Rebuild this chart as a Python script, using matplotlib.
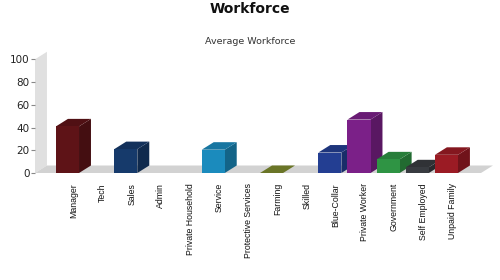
import numpy as np
import matplotlib.pyplot as plt
from matplotlib.patches import Polygon
from matplotlib.colors import to_rgb
import matplotlib.transforms as mtransforms

categories = ['Manager', 'Tech', 'Sales', 'Admin', 'Private Household', 'Service',
              'Protective Services', 'Farming', 'Skilled', 'Blue-Collar',
              'Private Worker', 'Government', 'Self Employed', 'Unpaid Family']
values = [41, np.nan, 21, np.nan, np.nan, 20.5, np.nan, 0, np.nan, 18, 47, 12, 5, 16]
colors = ['#5e1317', '#888888', '#163a6b', '#888888', '#888888', '#1b8bbd', '#888888',
          '#7d8a2e', '#888888', '#233e92', '#7b2088', '#2f9444', '#383b40', '#9b1b24']
yticks = [0, 20, 40, 60, 80, 100]


def shade(c, f):
    r, g, b = to_rgb(c)
    return (r * f, g * f, b * f)


fig = plt.figure(figsize=(5, 2.8), dpi=100)
ax = fig.add_axes([35 / 500, 107 / 280, 446 / 500, 113.7 / 280])
ax.set_xlim(-1.115, 14.185)
ax.set_ylim(0, 100)
for s in ax.spines.values():
    s.set_visible(False)

# depth of the 3d look, in data units
ddx = 0.41
ddy = 6.6
w = 0.79
x = np.arange(len(categories))
x0, x1 = ax.get_xlim()

# back wall and floor
wall = Polygon([(x0, 0), (x0, 100), (x0 + ddx, 100 + ddy), (x0 + ddx, ddy)],
               closed=True, facecolor='#e0e0e0', edgecolor='none', clip_on=False, zorder=1)
ax.add_patch(wall)
floor = Polygon([(x0, 0), (x1, 0), (x1 + ddx, ddy), (x0 + ddx, ddy)],
                closed=True, facecolor='#d2d2d2', edgecolor='none', clip_on=False, zorder=1)
ax.add_patch(floor)

vals = np.array(values, dtype=float)
for i in range(len(categories)):
    v = vals[i]
    if np.isnan(v):
        continue
    c = colors[i]
    z = 3 + i
    left = x[i] - w / 2
    right = x[i] + w / 2
    if v > 0:
        ax.bar(x[i], v, width=w, color=c, zorder=z + 0.2, clip_on=False)
        side = Polygon([(right, 0), (right + ddx, ddy), (right + ddx, v + ddy), (right, v)],
                       closed=True, facecolor=shade(c, 0.72), edgecolor='none',
                       clip_on=False, zorder=z)
        ax.add_patch(side)
    top = Polygon([(left, v), (right, v), (right + ddx, v + ddy), (left + ddx, v + ddy)],
                  closed=True, facecolor=shade(c, 0.85), edgecolor='none',
                  clip_on=False, zorder=z + 0.1)
    ax.add_patch(top)

ax.set_xticks([])
ax.set_yticks(yticks)
ax.set_yticklabels([str(t) for t in yticks], fontsize=7.5, color='#222222')
ax.tick_params(axis='y', length=3, color='#888888', pad=1)

trans = mtransforms.blended_transform_factory(ax.transData, fig.transFigure)
for i, name in enumerate(categories):
    ax.text(x[i] + ddx / 2, 1 - 183 / 280, name, transform=trans, rotation=90,
            ha='center', va='top', fontsize=6.3, family=['Liberation Sans', 'DejaVu Sans'],
            color='#111111')

fig.text(0.5, 1 - 9 / 280, 'Workforce', ha='center', va='center',
         fontsize=10, fontweight='bold', color='#111111')
fig.text(0.5, 1 - 42 / 280, 'Average Workforce', ha='center', va='center',
         fontsize=6.8, color='#333333')

fig.savefig('out.png', dpi=100)
